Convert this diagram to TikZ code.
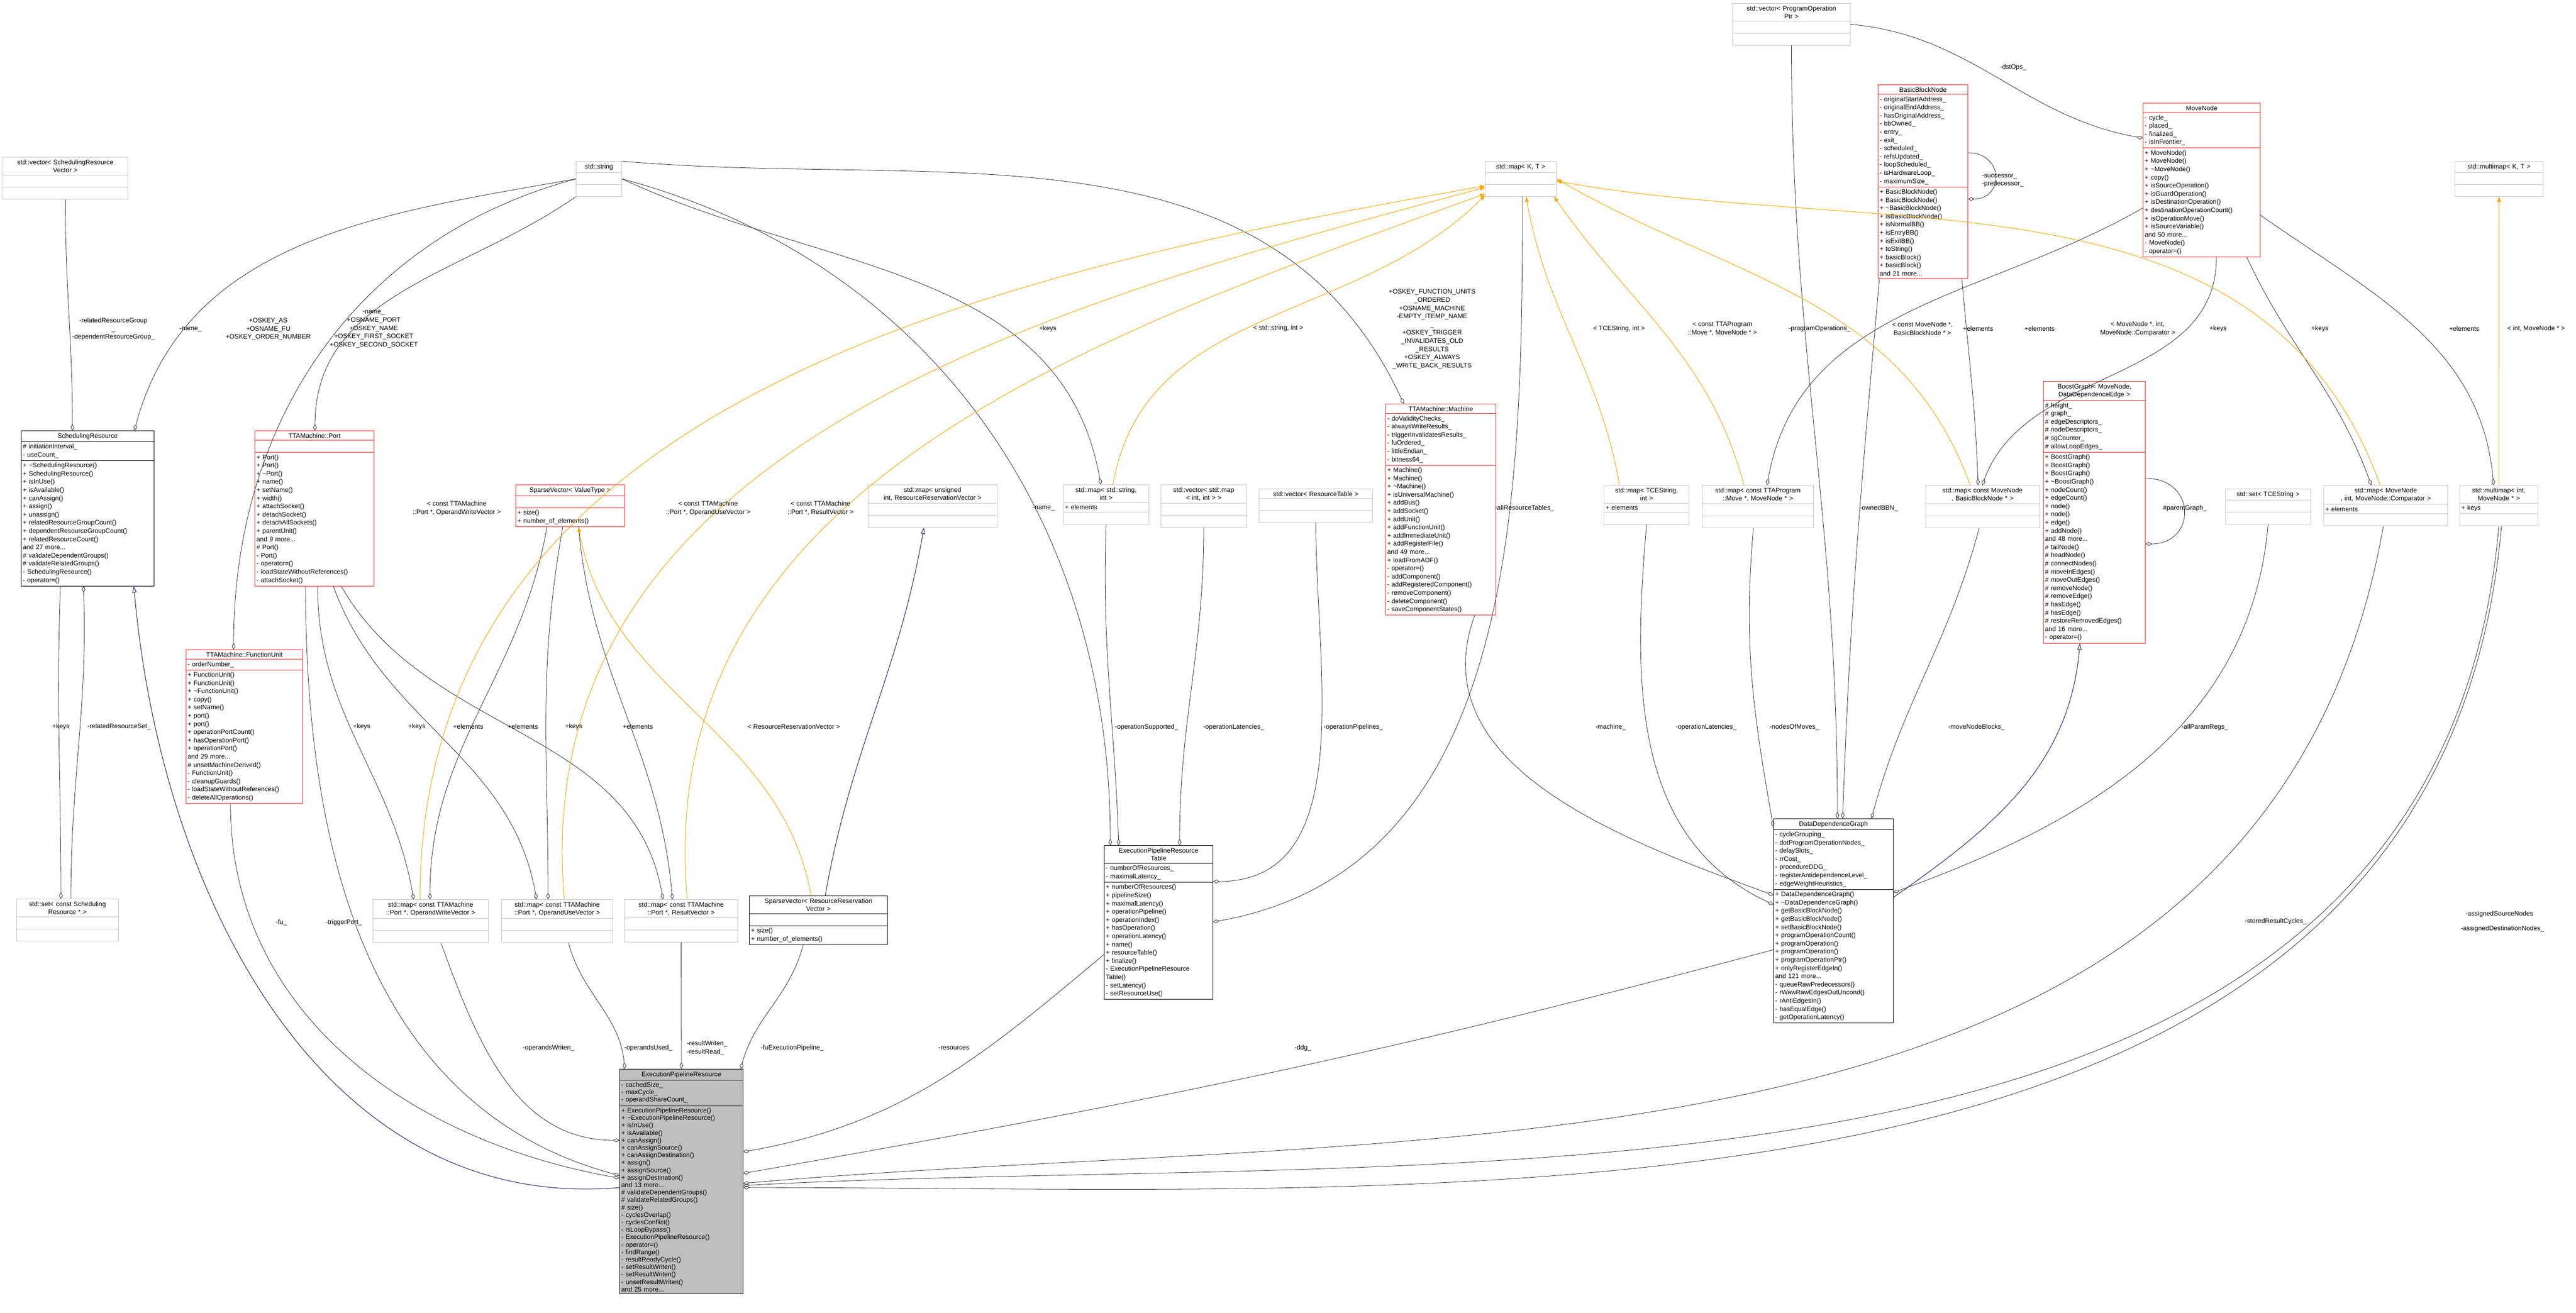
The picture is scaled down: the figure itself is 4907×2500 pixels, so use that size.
\documentclass[tikz,border=0pt]{standalone}
\usepackage{fontspec}
\setmainfont{Liberation Sans}
\usetikzlibrary{shapes.multipart}
\usetikzlibrary{arrows.meta}
\usetikzlibrary{calc}
\definecolor{midnightblue}{HTML}{191970}
\definecolor{boxgray}{HTML}{BFBFBF}
\definecolor{edgeorange}{HTML}{FFA500}

\tikzset{
	cls/.style={rectangle split, rectangle split parts=3, draw=#1,
		align=center, anchor=north west, inner xsep=0.75pt, inner ysep=1pt,
		font=\fontsize{3.1}{3.9}\selectfont, line width=0.25pt},
	plain/.style={cls=gray!45},
	hot/.style={cls=red!85},
	main/.style={cls=black},
	lbl/.style={font=\fontsize{3.1}{3.9}\selectfont, align=center, inner sep=0pt},
	agg/.style={draw=gray!30!black, line width=0.2pt,
		-{Diamond[open,length=3pt,width=1.75pt]}},
	tpl/.style={draw=edgeorange, line width=0.25pt,
		-{Triangle[length=2.5pt,width=1.75pt,fill=edgeorange]}},
	inh/.style={draw=midnightblue, line width=0.25pt,
		-{Triangle[open,length=3pt,width=2pt]}},
}
\newcommand{\emptypart}{\rule{0pt}{3.5pt}}
\newcommand{\mbr}[1]{\parbox[t]{\hsize}{\raggedright #1}}

\begin{document}
\begin{tikzpicture}[x=0.25pt,y=-0.25pt]
\useasboundingbox (0,0) rectangle (4907,2500);

% classes on the left
\node[plain, text width=58pt] (vecsr) at (5,299)
	{std::vector\textless{} SchedulingResource\\Vector \textgreater{}
	\nodepart{two}\emptypart\nodepart{three}\emptypart};
\node[plain, text width=20.25pt] (str) at (1097,307)
	{std::string\nodepart{two}\emptypart\nodepart{three}\emptypart};
\node[main, text width=61.75pt] (sr) at (40,820)
	{SchedulingResource
	\nodepart{two}\mbr{\# initiationInterval\_\\- useCount\_}
	\nodepart{three}\mbr{+ \textasciitilde SchedulingResource()\\+ SchedulingResource()\\+ isInUse()\\+ isAvailable()\\+ canAssign()\\+ assign()\\+ unassign()\\+ relatedResourceGroupCount()\\+ dependentResourceGroupCount()\\+ relatedResourceCount()\\and 27 more...\\\# validateDependentGroups()\\\# validateRelatedGroups()\\- SchedulingResource()\\- operator=()}};
\node[hot, text width=55.25pt] (port) at (485,820)
	{TTAMachine::Port
	\nodepart{two}\emptypart
	\nodepart{three}\mbr{+ Port()\\+ Port()\\+ \textasciitilde Port()\\+ name()\\+ setName()\\+ width()\\+ attachSocket()\\+ detachSocket()\\+ detachAllSockets()\\+ parentUnit()\\and 9 more...\\\# Port()\\- Port()\\- operator=()\\- loadStateWithoutReferences()\\- attachSocket()}};
\node[hot, text width=50.25pt] (sv) at (982,923)
	{SparseVector\textless{} ValueType \textgreater{}
	\nodepart{two}\emptypart
	\nodepart{three}\mbr{+ size()\\+ number\_of\_elements()}};
\node[hot, text width=54pt] (fu) at (354,1237)
	{TTAMachine::FunctionUnit
	\nodepart{two}\mbr{- orderNumber\_}
	\nodepart{three}\mbr{+ FunctionUnit()\\+ FunctionUnit()\\+ \textasciitilde FunctionUnit()\\+ copy()\\+ setName()\\+ port()\\+ port()\\+ operationPortCount()\\+ hasOperationPort()\\+ operationPort()\\and 29 more...\\\# unsetMachineDerived()\\- FunctionUnit()\\- cleanupGuards()\\- loadStateWithoutReferences()\\- deleteAllOperations()}};
\node[plain, text width=47pt] (setsr) at (31,1712)
	{std::set\textless{} const Scheduling\\Resource * \textgreater{}
	\nodepart{two}\emptypart\nodepart{three}\emptypart};
\node[plain, text width=53.5pt] (mapowv) at (710,1713)
	{std::map\textless{} const TTAMachine\\::Port *, OperandWriteVector \textgreater{}
	\nodepart{two}\emptypart\nodepart{three}\emptypart};
\node[plain, text width=51.5pt] (mapouv) at (955,1713)
	{std::map\textless{} const TTAMachine\\::Port *, OperandUseVector \textgreater{}
	\nodepart{two}\emptypart\nodepart{three}\emptypart};
\node[plain, text width=52.5pt] (maprv) at (1189,1713)
	{std::map\textless{} const TTAMachine\\::Port *, ResultVector \textgreater{}
	\nodepart{two}\emptypart\nodepart{three}\emptypart};
\node[main, text width=64.25pt] (svrrv) at (1427,1706)
	{SparseVector\textless{} ResourceReservation\\Vector \textgreater{}
	\nodepart{two}\emptypart
	\nodepart{three}\mbr{+ size()\\+ number\_of\_elements()}};
\node[main, fill=boxgray, text width=57.25pt, font=\fontsize{3.1}{3.55}\selectfont] (epr) at (1180,2036)
	{ExecutionPipelineResource
	\nodepart{two}\mbr{- cachedSize\_\\- maxCycle\_\\- operandShareCount\_}
	\nodepart{three}\mbr{+ ExecutionPipelineResource()\\+ \textasciitilde ExecutionPipelineResource()\\+ isInUse()\\+ isAvailable()\\+ canAssign()\\+ canAssignSource()\\+ canAssignDestination()\\+ assign()\\+ assignSource()\\+ assignDestination()\\and 13 more...\\\# validateDependentGroups()\\\# validateRelatedGroups()\\\# size()\\- cyclesOverlap()\\- cyclesConflict()\\- isLoopBypass()\\- ExecutionPipelineResource()\\- operator=()\\- findRange()\\- resultReadyCycle()\\- setResultWriten()\\- setResultWriten()\\- unsetResultWriten()\\and 25 more...}};

% classes in the middle
\node[plain, text width=60pt] (mapurrv) at (1653,923)
	{std::map\textless{} unsigned\\int, ResourceReservationVector \textgreater{}
	\nodepart{two}\emptypart\nodepart{three}\emptypart};
\node[plain, text width=39.25pt] (mapsi) at (2025,923)
	{std::map\textless{} std::string,\\int \textgreater{}
	\nodepart{two}\mbr{+ elements}\nodepart{three}\emptypart};
\node[plain, text width=39.25pt] (vecmapii) at (2211,923)
	{std::vector\textless{} std::map\\\textless{} int, int \textgreater{} \textgreater{}
	\nodepart{two}\emptypart\nodepart{three}\emptypart};
\node[plain, text width=52.5pt] (vecrt) at (2398,931)
	{std::vector\textless{} ResourceTable \textgreater{}
	\nodepart{two}\emptypart\nodepart{three}\emptypart};
\node[main, text width=50.25pt] (eprt) at (2103,1610)
	{ExecutionPipelineResource\\Table
	\nodepart{two}\mbr{- numberOfResources\_\\- maximalLatency\_}
	\nodepart{three}\mbr{+ numberOfResources()\\+ pipelineSize()\\+ maximalLatency()\\+ operationPipeline()\\+ operationIndex()\\+ hasOperation()\\+ operationLatency()\\+ name()\\+ resourceTable()\\+ finalize()\\- ExecutionPipelineResource\\Table()\\- setLatency()\\- setResourceUse()}};
\node[hot, text width=51pt] (machine) at (2639,769)
	{TTAMachine::Machine
	\nodepart{two}\mbr{- doValidityChecks\_\\- alwaysWriteResults\_\\- triggerInvalidatesResults\_\\- fuOrdered\_\\- littleEndian\_\\- bitness64\_}
	\nodepart{three}\mbr{+ Machine()\\+ Machine()\\+ \textasciitilde Machine()\\+ isUniversalMachine()\\+ addBus()\\+ addSocket()\\+ addUnit()\\+ addFunctionUnit()\\+ addImmediateUnit()\\+ addRegisterFile()\\and 49 more...\\+ loadFromADF()\\- operator=()\\- addComponent()\\- addRegisteredComponent()\\- removeComponent()\\- deleteComponent()\\- saveComponentStates()}};
\node[plain, text width=32.25pt] (mapkt) at (2829,307)
	{std::map\textless{} K, T \textgreater{}
	\nodepart{two}\emptypart\nodepart{three}\emptypart};

% classes on the right
\node[plain, text width=54.5pt] (vecpop) at (3300,6)
	{std::vector\textless{} ProgramOperation\\Ptr \textgreater{}
	\nodepart{two}\emptypart\nodepart{three}\emptypart};
\node[hot, text width=41.25pt] (bbn) at (3577,161)
	{BasicBlockNode
	\nodepart{two}\mbr{- originalStartAddress\_\\- originalEndAddress\_\\- hasOriginalAddress\_\\- bbOwned\_\\- entry\_\\- exit\_\\- scheduled\_\\- refsUpdated\_\\- loopScheduled\_\\- isHardwareLoop\_\\- maximumSize\_}
	\nodepart{three}\mbr{+ BasicBlockNode()\\+ BasicBlockNode()\\+ \textasciitilde BasicBlockNode()\\+ isBasicBlockNode()\\+ isNormalBB()\\+ isEntryBB()\\+ isExitBB()\\+ toString()\\+ basicBlock()\\+ basicBlock()\\and 21 more...}};
\node[hot, text width=54.25pt] (movenode) at (4082,196)
	{MoveNode
	\nodepart{two}\mbr{- cycle\_\\- placed\_\\- finalized\_\\- isInFrontier\_}
	\nodepart{three}\mbr{+ MoveNode()\\+ MoveNode()\\+ \textasciitilde MoveNode()\\+ copy()\\+ isSourceOperation()\\+ isGuardOperation()\\+ isDestinationOperation()\\+ destinationOperationCount()\\+ isOperationMove()\\+ isSourceVariable()\\and 50 more...\\- MoveNode()\\- operator=()}};
\node[plain, text width=40.5pt] (mmkt) at (4676,307)
	{std::multimap\textless{} K, T \textgreater{}
	\nodepart{two}\emptypart\nodepart{three}\emptypart};
\node[hot, text width=47pt] (boost) at (3892,726)
	{BoostGraph\textless{} MoveNode,\\DataDependenceEdge \textgreater{}
	\nodepart{two}\mbr{\# height\_\\\# graph\_\\\# edgeDescriptors\_\\\# nodeDescriptors\_\\\# sgCounter\_\\\# allowLoopEdges\_}
	\nodepart{three}\mbr{+ BoostGraph()\\+ BoostGraph()\\+ BoostGraph()\\+ \textasciitilde BoostGraph()\\+ nodeCount()\\+ edgeCount()\\+ node()\\+ node()\\+ edge()\\+ addNode()\\and 48 more...\\\# tailNode()\\\# headNode()\\\# connectNodes()\\\# moveInEdges()\\\# moveOutEdges()\\\# removeNode()\\\# removeEdge()\\\# hasEdge()\\\# hasEdge()\\\# restoreRemovedEdges()\\and 16 more...\\- operator=()}};
\node[plain, text width=39pt] (maptcesi) at (3055,924)
	{std::map\textless{} TCEString,\\int \textgreater{}
	\nodepart{two}\mbr{+ elements}\nodepart{three}\emptypart};
\node[plain, text width=51.5pt] (mapmovemn) at (3242,924)
	{std::map\textless{} const TTAProgram\\::Move *, MoveNode * \textgreater{}
	\nodepart{two}\emptypart\nodepart{three}\emptypart};
\node[plain, text width=52.5pt] (mapbbn) at (3668,924)
	{std::map\textless{} const MoveNode\\*, BasicBlockNode * \textgreater{}
	\nodepart{two}\emptypart\nodepart{three}\emptypart};
\node[plain, text width=39pt] (settce) at (4239,931)
	{std::set\textless{} TCEString \textgreater{}
	\nodepart{two}\emptypart\nodepart{three}\emptypart};
\node[plain, text width=57.5pt] (mapmnc) at (4426,924)
	{std::map\textless{} MoveNode\\*, int, MoveNode::Comparator \textgreater{}
	\nodepart{two}\mbr{+ elements}\nodepart{three}\emptypart};
\node[plain, text width=35.75pt] (mmimn) at (4685,924)
	{std::multimap\textless{} int,\\MoveNode * \textgreater{}
	\nodepart{two}\mbr{+ keys}\nodepart{three}\emptypart};
\node[main, text width=55.5pt] (ddg) at (3378,1559)
	{DataDependenceGraph
	\nodepart{two}\mbr{- cycleGrouping\_\\- dotProgramOperationNodes\_\\- delaySlots\_\\- rrCost\_\\- procedureDDG\_\\- registerAntidependenceLevel\_\\- edgeWeightHeuristics\_}
	\nodepart{three}\mbr{+ DataDependenceGraph()\\+ \textasciitilde DataDependenceGraph()\\+ getBasicBlockNode()\\+ getBasicBlockNode()\\+ setBasicBlockNode()\\+ programOperationCount()\\+ programOperation()\\+ programOperation()\\+ programOperationPtr()\\+ onlyRegisterEdgeIn()\\and 121 more...\\- queueRawPredecessors()\\- rWawRawEdgesOutUncond()\\- rAntiEdgesIn()\\- hasEqualEdge()\\- getOperationLatency()}};

% Members held by value or pointer
\draw[agg] (vecsr.south) to[out=-90,in=90] ($(sr.north west)+(98,0)$);
\draw[agg] (str.west) to[out=190,in=75] ($(sr.north west)+(216,0)$);
\draw[agg] (str.west) to[out=195,in=90] ($(fu.north west)+(91,0)$);
\draw[agg] (str.south west) to[out=215,in=90] ($(port.north west)+(115,0)$);
\draw[agg] (str.east) to[out=-15,in=90] ($(eprt.north west)+(12,0)$);
\draw[agg] (str.east) to[out=-25,in=100] ($(mapsi.north west)+(72,0)$);
\draw[agg] (str.north east) to[out=-5,in=115] ($(machine.north west)+(35,0)$);
\draw[agg] ($(sr.south west)+(75,0)$) to[out=-92,in=90] ($(setsr.north west)+(85,0)$);
\draw[agg] ($(setsr.north west)+(104,0)$) to[out=90,in=-88] ($(sr.south west)+(119,0)$);
\draw[agg] ($(port.south west)+(120,0)$) to[out=-90,in=100] ($(mapowv.north west)+(78,0)$);
\draw[agg] ($(sv.south west)+(60,0)$) to[out=-100,in=90] ($(mapowv.north west)+(109,0)$);
\draw[agg] ($(port.south west)+(150,0)$) to[out=-70,in=100] ($(mapouv.north west)+(67,0)$);
\draw[agg] ($(sv.south west)+(90,0)$) to[out=-100,in=90] ($(mapouv.north west)+(89,0)$);
\draw[agg] ($(port.south west)+(165,0)$) to[out=-60,in=100] ($(maprv.north west)+(74,0)$);
\draw[agg] ($(sv.south west)+(120,0)$) to[out=-85,in=95] ($(maprv.north west)+(92,0)$);
\draw[agg] ($(mapowv.south west)+(130,0)$) to[out=-70,in=180] ($(epr.north west)+(0,136)$);
\draw[agg] ($(mapouv.south west)+(128,0)$) to[out=-75,in=95] ($(epr.north west)+(10,0)$);
\draw[agg] (maprv.south) -- ($(epr.north west)+(118,0)$);
\draw[agg] ($(svrrv.south west)+(103,0)$) to[out=-105,in=75] ($(epr.north east)+(-5,0)$);
\draw[agg] ($(eprt.north west)+(0,208)$) to[out=220,in=10] ($(epr.north east)+(0,158)$);
\draw[agg] ($(ddg.north west)+(0,250)$) to[out=195,in=10] ($(epr.north east)+(0,199)$);
\draw[agg] ($(mapmnc.south west)+(114,0)$) to[out=-100,in=5] ($(epr.north east)+(0,218)$);
\draw[agg] ($(mmimn.south west)+(75,0)$) to[out=-95,in=3] ($(epr.north east)+(0,222)$);
\draw[agg] ($(mmimn.south west)+(80,0)$) to[out=-95,in=0] ($(epr.north east)+(0,226)$);
\draw[agg] ($(fu.south west)+(85,0)$) to[out=-90,in=170] ($(epr.north west)+(0,208)$);
\draw[agg] ($(port.south west)+(97,0)$) to[out=-90,in=165] ($(epr.north west)+(0,203)$);
\draw[agg] ($(mapsi.south west)+(82,0)$) to[out=-92,in=92] ($(eprt.north west)+(28,0)$);
\draw[agg] (vecmapii.south) to[out=-90,in=90] ($(eprt.north west)+(144,0)$);
\draw[agg] (vecrt.south) to[out=-90,in=0] ($(eprt.north east)+(0,69)$);
\draw[agg] ($(mapkt.south west)+(71,0)$) to[out=-90,in=10] ($(eprt.north east)+(0,146)$);
\draw[agg] ($(machine.south west)+(170,0)$) to[out=-110,in=160] ($(ddg.north west)+(0,146)$);
\draw[agg] (maptcesi.south) to[out=-95,in=155] ($(ddg.north west)+(0,164)$);
\draw[agg] ($(mapmovemn.south west)+(98,0)$) to[out=-95,in=100] ($(ddg.north west)+(0,16)$);
\draw[agg] (vecpop.south) to[out=-90,in=90] ($(ddg.north west)+(122,0)$);
\draw[agg] ($(bbn.south west)+(3,0)$) to[out=-95,in=88] ($(ddg.north west)+(132,0)$);
\draw[agg] ($(mapbbn.south west)+(102,0)$) to[out=-105,in=75] ($(ddg.north west)+(187,0)$);
\draw[agg] (settce.south) to[out=-95,in=20] ($(ddg.north east)+(0,141)$);
\draw[agg] (vecpop.east) to[out=-5,in=170] ($(movenode.north west)+(0,67)$);
\draw[agg] ($(bbn.north east)+(0,130)$) to[out=0,in=0,looseness=2] ($(bbn.north east)+(0,218)$);
\draw[agg] ($(boost.north east)+(0,185)$) to[out=0,in=0,looseness=2] ($(boost.north east)+(0,310)$);
\draw[agg] ($(bbn.south east)+(-12,0)$) to[out=-85,in=92] ($(mapbbn.north west)+(100,0)$);
\draw[agg] ($(movenode.north west)+(0,200)$) to[out=210,in=80] ($(mapmovemn.north west)+(124,0)$);
\draw[agg] ($(movenode.south west)+(140,0)$) to[out=-90,in=70] ($(mapbbn.north west)+(108,0)$);
\draw[agg] ($(movenode.south west)+(198,0)$) to[out=-65,in=110] ($(mapmnc.north west)+(91,0)$);
\draw[agg] ($(movenode.north east)+(0,214)$) to[out=-35,in=95] ($(mmimn.north west)+(65,0)$);

% Template instances
\draw[tpl] ($(mapowv.north west)+(90,0)$) to[out=90,in=190] ($(mapkt.north west)+(0,47)$);
\draw[tpl] ($(mapouv.north west)+(120,0)$) to[out=95,in=195] ($(mapkt.north west)+(0,50)$);
\draw[tpl] ($(maprv.north west)+(120,0)$) to[out=95,in=200] ($(mapkt.north west)+(0,62)$);
\draw[tpl] ($(mapsi.north west)+(95,0)$) to[out=80,in=225] ($(mapkt.north west)+(0,65)$);
\draw[tpl] ($(maptcesi.north west)+(30,0)$) to[out=100,in=-80] ($(mapkt.south west)+(78,0)$);
\draw[tpl] ($(mapmovemn.north west)+(80,0)$) to[out=105,in=-55] ($(mapkt.south east)+(-5,0)$);
\draw[tpl] ($(mapbbn.north west)+(85,0)$) to[out=110,in=-30] (mapkt.east);
\draw[tpl] ($(mapmnc.north west)+(108,0)$) to[out=110,in=-10] ($(mapkt.north east)+(0,38)$);
\draw[tpl] (mmimn.north) -- (mmkt.south);
\draw[tpl] ($(svrrv.north west)+(118,0)$) to[out=100,in=-80] ($(sv.south west)+(120,0)$);

% Base classes
\draw[inh] ($(epr.north west)+(0,226)$) to[out=185,in=-85] ($(sr.south west)+(215,0)$);
\draw[inh] ($(svrrv.north west)+(145,0)$) to[out=80,in=-100] ($(mapurrv.south west)+(107,0)$);
\draw[inh] ($(ddg.north east)+(0,150)$) to[out=35,in=-95] ($(boost.south west)+(70,0)$);

% Labels
\node[lbl] (l1) at (216,627) {-relatedResourceGroup\\\_\\-dependentResourceGroup\_};
\node[lbl] (l2) at (363,627) {-name\_};
\node[lbl] (l3) at (511,627) {+OSKEY\_AS\\+OSNAME\_FU\\+OSKEY\_ORDER\_NUMBER};
\node[lbl] (l4) at (712,627) {-name\_\\+OSNAME\_PORT\\+OSKEY\_NAME\\+OSKEY\_FIRST\_SOCKET\\+OSKEY\_SECOND\_SOCKET};
\node[lbl] (l5) at (870,968) {\textless{} const TTAMachine\\::Port *, OperandWriteVector \textgreater{}};
\node[lbl] (l6) at (1349,968) {\textless{} const TTAMachine\\::Port *, OperandUseVector \textgreater{}};
\node[lbl] (l7) at (1563,968) {\textless{} const TTAMachine\\::Port *, ResultVector \textgreater{}};
\node[lbl] (l8) at (1996,626) {+keys};
\node[lbl] (l9) at (2435,625) {\textless{} std::string, int \textgreater{}};
\node[lbl] (l10) at (1988,968) {-name\_};
\node[lbl] (l11) at (2728,627) {+OSKEY\_FUNCTION\_UNITS\\\_ORDERED\\+OSNAME\_MACHINE\\-EMPTY\_ITEMP\_NAME\\\_\\+OSKEY\_TRIGGER\\\_INVALIDATES\_OLD\\\_RESULTS\\+OSKEY\_ALWAYS\\\_WRITE\_BACK\_RESULTS};
\node[lbl] (l12) at (3084,626) {\textless{} TCEString, int \textgreater{}};
\node[lbl] (l13) at (3281,626) {\textless{} const TTAProgram\\::Move *, MoveNode * \textgreater{}};
\node[lbl] (l14) at (3466,626) {-programOperations\_};
\node[lbl] (l15) at (3662,626) {\textless{} const MoveNode *,\\BasicBlockNode * \textgreater{}};
\node[lbl] (l16) at (3768,626) {+elements};
\node[lbl] (l17) at (3885,626) {+elements};
\node[lbl] (l18) at (4072,626) {\textless{} MoveNode *, int,\\MoveNode::Comparator \textgreater{}};
\node[lbl] (l19) at (4225,626) {+keys};
\node[lbl] (l20) at (4419,626) {+keys};
\node[lbl] (l21) at (4694,626) {+elements};
\node[lbl] (l22) at (4831,626) {\textless{} int, MoveNode * \textgreater{}};
\node[lbl] (l23) at (3835,128) {-dstOps\_};
\node[lbl, align=left] (l24) at (3815,344) {-successor\_\\-predecessor\_};
\node[lbl] (l25) at (4162,968) {\#parentGraph\_};
\node[lbl] (l26) at (2904,968) {-allResourceTables\_};
\node[lbl] (l27) at (3579,968) {-ownedBBN\_};
\node[lbl] (l28) at (2578,1385) {-operationPipelines\_};
\node[lbl] (l29) at (3068,1385) {-machine\_};
\node[lbl] (l30) at (3250,1385) {-operationLatencies\_};
\node[lbl] (l31) at (3418,1385) {-nodesOfMoves\_};
\node[lbl] (l32) at (3765,1385) {-moveNodeBlocks\_};
\node[lbl] (l33) at (4200,1385) {-allParamRegs\_};
\node[lbl] (l34) at (2184,1385) {-operationSupported\_};
\node[lbl] (l35) at (2350,1385) {-operationLatencies\_};
\node[lbl] (l36) at (116,1384) {+keys};
\node[lbl] (l37) at (227,1384) {-relatedResourceSet\_};
\node[lbl] (l38) at (689,1384) {+keys};
\node[lbl] (l39) at (794,1384) {+keys};
\node[lbl] (l40) at (892,1384) {+elements};
\node[lbl] (l41) at (996,1384) {+elements};
\node[lbl] (l42) at (1093,1384) {+keys};
\node[lbl] (l43) at (1215,1384) {+elements};
\node[lbl] (l44) at (1512,1384) {\textless{} ResourceReservationVector \textgreater{}};
\node[lbl] (l45) at (536,1757) {-fu\_};
\node[lbl] (l46) at (655,1757) {-triggerPort\_};
\node[lbl] (l47) at (1045,1996) {-operandsWriten\_};
\node[lbl] (l48) at (1235,1996) {-operandsUsed\_};
\node[lbl, align=left] (l49) at (1347,1996) {-resultWriten\_\\-resultRead\_};
\node[lbl] (l50) at (1509,1996) {-fuExecutionPipeline\_};
\node[lbl] (l51) at (1817,1996) {-resources};
\node[lbl] (l52) at (2482,1996) {-ddg\_};
\node[lbl] (l53) at (4335,1755) {-storedResultCycles\_};
\node[lbl] (l54) at (4761,1741) {-assignedSourceNodes};
\node[lbl] (l55) at (4767,1769) {-assignedDestinationNodes\_};
\end{tikzpicture}
\end{document}
